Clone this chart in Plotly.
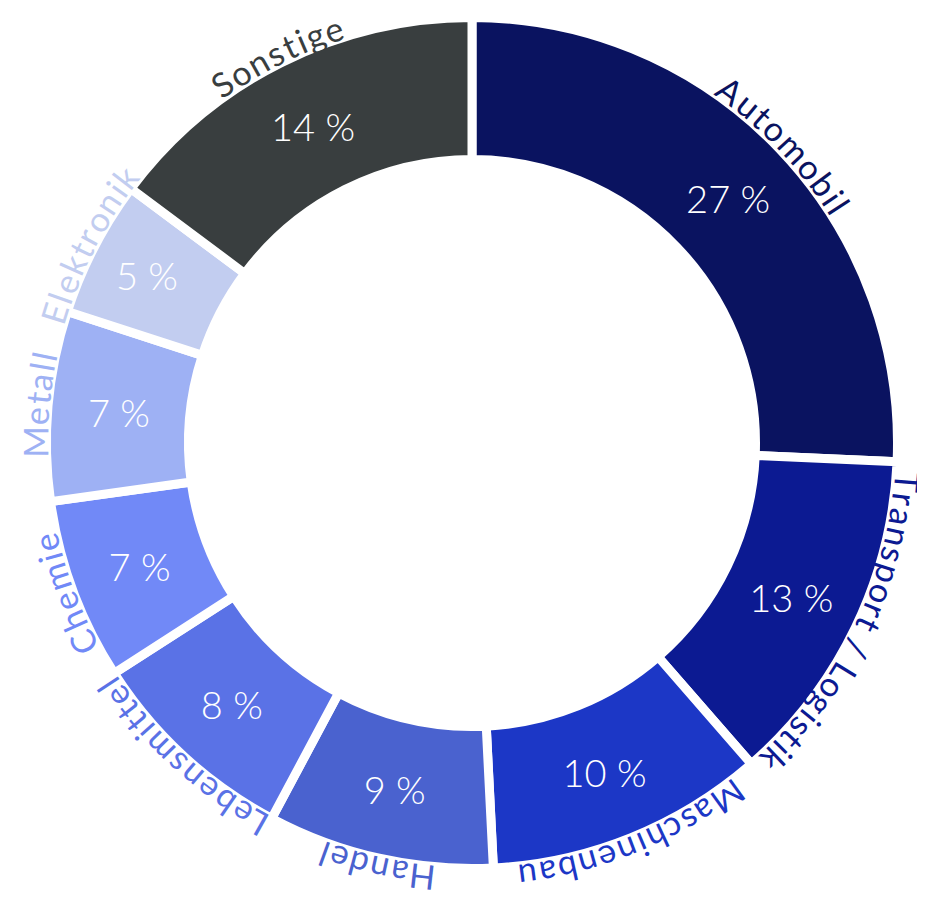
import math
import plotly.graph_objects as go

# ---------------- data ----------------
categories = ["Automobil", "Transport / Logistik", "Maschinenbau", "Handel",
              "Lebensmittel", "Chemie", "Metall", "Elektronik", "Sonstige"]
share_labels = [27, 13, 10, 9, 8, 7, 7, 5, 14]          # printed percentages
arc_sizes = [25.7, 12.9, 10.6, 8.6, 8.1, 6.9, 7.2, 5.2, 14.8]  # slice sizes as drawn
colors = ["#0a1360", "#0c1a92", "#1c37c6", "#4a62cf", "#5a72e6",
          "#7189f7", "#9eb1f4", "#c2cdf0", "#393e3f"]

# ---------------- geometry / style ----------------
PAGE_MARGIN = 8            # default body margin of the html page
W, H = 925 - PAGE_MARGIN, 897 - PAGE_MARGIN
CX, CY = 472 - PAGE_MARGIN, 443 - PAGE_MARGIN   # ring centre (px, figure coords)
R_OUT, R_IN = 421, 288     # visible radii (px)
GAP = 9                    # white gap between slices
R_PIE = R_OUT + GAP / 2
HOLE = (R_IN - GAP / 2) / R_PIE
FONT = "Lato"
LABEL_SIZE = 34
PCT_SIZE = 38
LABEL_R = 437.5            # radius of label letter centres
SPACING = 2.4              # extra px between letters

# approximate advance widths (em) for the label font
CHAR_W = {
    "A": .68, "C": .68, "E": .56, "H": .75, "L": .48, "M": .90, "S": .52, "T": .58,
    "a": .50, "b": .56, "c": .46, "d": .56, "e": .53, "g": .51, "h": .56, "i": .24,
    "k": .51, "l": .24, "m": .84, "n": .56, "o": .56, "p": .56, "r": .37, "s": .43,
    "t": .36, "u": .56, " ": .26, "/": .37,
}

fig = go.Figure(go.Pie(
    labels=categories,
    values=arc_sizes,
    text=[f"{v} %" for v in share_labels],
    textinfo="text",
    textposition="inside",
    insidetextorientation="horizontal",
    sort=False,
    direction="clockwise",
    rotation=0,
    hole=HOLE,
    marker=dict(colors=colors, line=dict(color="white", width=GAP)),
    textfont=dict(family=FONT, size=PCT_SIZE, color="white", weight=300),
    domain=dict(x=[(CX - R_PIE) / W, (CX + R_PIE) / W],
                y=[1 - (CY + R_PIE) / H, 1 - (CY - R_PIE) / H]),
    showlegend=False,
    hoverinfo="label+text",
))

# ---------------- curved outside labels ----------------
annotations = []
total = sum(arc_sizes)
cum = 0.0
for name, size, col in zip(categories, arc_sizes, colors):
    mid_deg = (cum + size / 2) / total * 360.0
    cum += size
    widths = [CHAR_W.get(ch, .55) * LABEL_SIZE + SPACING for ch in name]
    span = sum(widths)
    start = math.radians(mid_deg) - span / 2 / LABEL_R
    acc = 0.0
    for ch, w in zip(name, widths):
        th = start + (acc + w / 2) / LABEL_R
        acc += w
        if ch == " ":
            continue
        px = CX + LABEL_R * math.sin(th)
        py = CY - LABEL_R * math.cos(th)
        ang = math.degrees(th) % 360
        if ang > 180:
            ang -= 360
        annotations.append(dict(
            x=px / W, y=1 - py / H, xref="paper", yref="paper",
            text=ch, showarrow=False, textangle=ang,
            xanchor="center", yanchor="middle", borderpad=0,
            font=dict(family=FONT, size=LABEL_SIZE, color=col, weight=400),
        ))

fig.update_layout(
    width=W, height=H,
    margin=dict(l=0, r=0, t=0, b=0),
    paper_bgcolor="white", plot_bgcolor="white",
    annotations=annotations,
)

fig.write_html("out.html")
